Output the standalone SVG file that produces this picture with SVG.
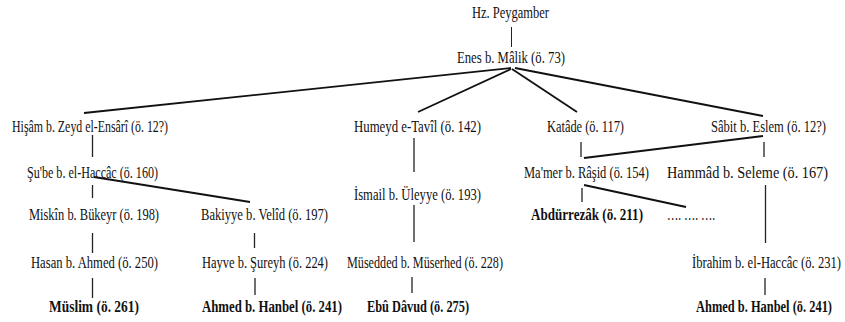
<svg xmlns="http://www.w3.org/2000/svg" width="845" height="322" viewBox="0 0 845 322">
<style>
text{font-family:"Liberation Serif","Times New Roman",serif;font-size:16px;fill:#111;}
.b{font-weight:bold;}
.v{stroke:#222;stroke-width:1.3;fill:none;}
.d{stroke:#111;stroke-width:1.8;fill:none;}
</style>
<rect width="845" height="322" fill="#fff"/>
<g id="connectors">
<line class="v" x1="511.5" y1="27" x2="511.5" y2="47" style="stroke-width:1"/>
<line class="d" x1="511" y1="68" x2="84" y2="113"/>
<line class="d" x1="511" y1="69" x2="418" y2="112"/>
<line class="d" x1="512" y1="69" x2="577" y2="112"/>
<line class="d" x1="515" y1="68" x2="763" y2="116"/>
<line class="v" x1="92.5" y1="135" x2="92.5" y2="157"/>
<line class="v" x1="92.5" y1="185" x2="92.5" y2="198"/>
<line class="v" x1="92.5" y1="233" x2="92.5" y2="253"/>
<line class="v" x1="92.5" y1="278" x2="92.5" y2="298"/>
<line class="d" x1="94" y1="177" x2="250" y2="202"/>
<line class="v" x1="254.5" y1="233" x2="254.5" y2="248"/>
<line class="v" x1="255" y1="278" x2="255" y2="295"/>
<line class="v" x1="414" y1="138" x2="414" y2="172"/>
<line class="v" x1="414" y1="205" x2="414" y2="242"/>
<line class="v" x1="412" y1="277" x2="412" y2="293"/>
<line class="v" x1="581" y1="142" x2="581" y2="157"/>
<line class="d" x1="763" y1="136" x2="584" y2="158"/>
<line class="v" x1="582" y1="188" x2="582" y2="202"/>
<line class="d" x1="584" y1="185" x2="686" y2="207"/>
<line class="v" x1="764" y1="142" x2="764" y2="157"/>
<line class="v" x1="765.5" y1="185" x2="765.5" y2="243"/>
<line class="v" x1="765" y1="278" x2="765" y2="295"/>
</g>
<g id="n-peygamber"><text x="472" y="18" textLength="77" lengthAdjust="spacingAndGlyphs">Hz. Peygamber</text></g>
<g id="n-enes"><text x="457" y="63" textLength="108" lengthAdjust="spacingAndGlyphs">Enes b. Mâlik (ö. 73)</text></g>
<g id="n-hisam"><text x="12" y="132" textLength="156" lengthAdjust="spacingAndGlyphs">Hişâm b. Zeyd el-Ensârî (ö. 12?)</text></g>
<g id="n-humeyd"><text x="354" y="132" textLength="127" lengthAdjust="spacingAndGlyphs">Humeyd e-Tavîl (ö. 142)</text></g>
<g id="n-katade"><text x="547" y="132" textLength="77" lengthAdjust="spacingAndGlyphs">Katâde (ö. 117)</text></g>
<g id="n-sabit"><text x="711" y="132" textLength="115" lengthAdjust="spacingAndGlyphs">Sâbit b. Eslem (ö. 12?)</text></g>
<g id="n-shube"><text x="27" y="178" textLength="131" lengthAdjust="spacingAndGlyphs">Şu'be b. el-Haccâc (ö. 160)</text></g>
<g id="n-mamer"><text x="524" y="178" textLength="125" lengthAdjust="spacingAndGlyphs">Ma'mer b. Râşid (ö. 154)</text></g>
<g id="n-hammad"><text x="667" y="178" textLength="161" lengthAdjust="spacingAndGlyphs">Hammâd b. Seleme (ö. 167)</text></g>
<g id="n-ismail"><text x="354" y="200" textLength="127" lengthAdjust="spacingAndGlyphs">İsmail b. Üleyye (ö. 193)</text></g>
<g id="n-miskin"><text x="29" y="220" textLength="130" lengthAdjust="spacingAndGlyphs">Miskîn b. Bükeyr (ö. 198)</text></g>
<g id="n-bakiyye"><text x="201" y="220" textLength="127" lengthAdjust="spacingAndGlyphs">Bakiyye b. Velîd (ö. 197)</text></g>
<g id="n-abdurrezak"><text class="b" x="531" y="220" textLength="112" lengthAdjust="spacingAndGlyphs">Abdürrezâk (ö. 211)</text></g>
<g id="n-dots"><text x="667" y="220" textLength="48" lengthAdjust="spacingAndGlyphs">…. …. ….</text></g>
<g id="n-hasan"><text x="31" y="268" textLength="127" lengthAdjust="spacingAndGlyphs">Hasan b. Ahmed (ö. 250)</text></g>
<g id="n-hayve"><text x="202" y="268" textLength="126" lengthAdjust="spacingAndGlyphs">Hayve b. Şureyh (ö. 224)</text></g>
<g id="n-musedded"><text x="347" y="268" textLength="156" lengthAdjust="spacingAndGlyphs">Müsedded b. Müserhed (ö. 228)</text></g>
<g id="n-ibrahim"><text x="692" y="268" textLength="149" lengthAdjust="spacingAndGlyphs">İbrahim b. el-Haccâc (ö. 231)</text></g>
<g id="n-muslim"><text class="b" x="49" y="312" textLength="90" lengthAdjust="spacingAndGlyphs">Müslim (ö. 261)</text></g>
<g id="n-ahmed1"><text class="b" x="202" y="312" textLength="140" lengthAdjust="spacingAndGlyphs">Ahmed b. Hanbel (ö. 241)</text></g>
<g id="n-ebudavud"><text class="b" x="367" y="312" textLength="102" lengthAdjust="spacingAndGlyphs">Ebû Dâvud (ö. 275)</text></g>
<g id="n-ahmed2"><text class="b" x="696" y="312" textLength="136" lengthAdjust="spacingAndGlyphs">Ahmed b. Hanbel (ö. 241)</text></g>
</svg>
